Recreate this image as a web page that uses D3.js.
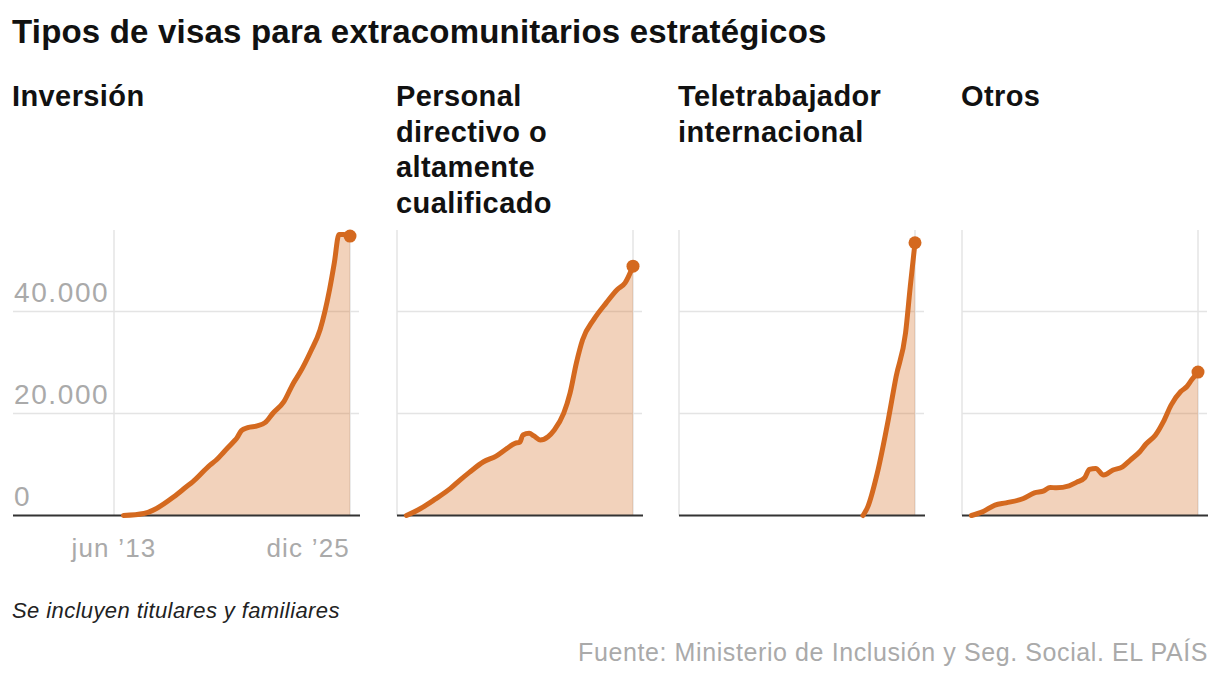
<!DOCTYPE html>
<html>
<head>
<meta charset="utf-8">
<script src="https://cdn.jsdelivr.net/npm/d3@7"></script>
<style>
  body { margin: 0; background: #fff; }
  text { font-family: "Liberation Sans", Arial, sans-serif; }
</style>
</head>
<body>
<div id="chart"></div>
<script>
var svgWidth = 1220;
var svgHeight = 682;

// ---- data ----
var panelTitles = [
  ["Inversión"],
  ["Personal", "directivo o", "altamente", "cualificado"],
  ["Teletrabajador", "internacional"],
  ["Otros"]
];

var inversionDates = ["2013-12", "2015-01", "2015-09", "2016-08", "2017-04", "2017-08", "2018-07", "2018-11",
  "2019-04", "2019-10", "2019-12", "2020-03", "2020-07", "2021-01", "2021-06", "2021-11", "2022-06", "2022-12",
  "2023-04", "2023-11", "2024-05", "2024-11", "2025-02", "2025-05", "2025-08", "2025-12"];
var inversionValues = [0, 400, 1380, 3660, 5630, 6610, 9890, 10880, 12510, 14480, 15150, 16650, 17230, 17570,
  18210, 20060, 22350, 25960, 27930, 32180, 36450, 44320, 49570, 55130, 55100, 54800];

var directivoDates = ["2013-12", "2014-09", "2015-06", "2016-04", "2016-10", "2017-04", "2018-01", "2018-09",
  "2019-04", "2019-09", "2019-12", "2020-02", "2020-06", "2020-09", "2021-01", "2021-06", "2021-10", "2022-04",
  "2022-08", "2022-12", "2023-04", "2023-11", "2024-07", "2025-02", "2025-07", "2025-12"];
var directivoValues = [0, 1380, 3150, 5310, 6940, 8460, 10540, 11660, 13180, 14160, 14360, 15790, 16130, 15600,
  14810, 15460, 16780, 20060, 24000, 29900, 34480, 38420, 41700, 44320, 45640, 48900];

var teletrabajoDates = ["2023-03", "2023-06", "2023-12", "2024-07", "2024-12", "2025-06", "2025-09", "2025-12"];
var teletrabajoValues = [0, 1690, 8260, 18750, 27260, 35800, 44970, 53500];

var otrosDates = ["2013-12", "2014-07", "2015-03", "2015-10", "2016-09", "2017-04", "2017-10", "2018-02",
  "2018-06", "2019-02", "2019-07", "2019-12", "2020-03", "2020-07", "2020-12", "2021-06", "2021-12", "2022-05",
  "2022-11", "2023-03", "2023-09", "2024-02", "2024-07", "2025-01", "2025-05", "2025-08", "2025-12"];
var otrosValues = [0, 710, 2030, 2480, 3340, 4450, 4840, 5510, 5430, 5820, 6550, 7400, 9050, 9240, 7930, 8910,
  9560, 10880, 12510, 14020, 15790, 18410, 21700, 24310, 25300, 26610, 28130];

var yTicks = [0, 20000, 40000];
var xTickDates = ["2013-06", "2025-12"];
var xTickLabels = ["jun \u201913", "dic \u201925"];

// ---- layout ----
var panelLeft = [114, 397, 679, 962];
var titleLeft = [12, 396, 678, 961];
var plotWidth = 236;
var gridExtra = 9;
var plotTop = 230;
var plotBottom = 515.5;

var lineColor = "#d4691f";

var parseMonth = d3.timeParse("%Y-%m");
var es = d3.formatLocale({ decimal: ",", thousands: ".", grouping: [3], currency: ["", " €"] });
var fmt = es.format(",");

var series = [
  { dates: inversionDates, values: inversionValues },
  { dates: directivoDates, values: directivoValues },
  { dates: teletrabajoDates, values: teletrabajoValues },
  { dates: otrosDates, values: otrosValues }
];

var svg = d3.select("#chart")
  .append("svg")
  .attr("width", svgWidth)
  .attr("height", svgHeight);

// title
svg.append("text")
  .attr("x", 12)
  .attr("y", 43)
  .attr("font-size", 33)
  .attr("letter-spacing", 0.2)
  .attr("font-weight", "bold")
  .attr("fill", "#111")
  .text("Tipos de visas para extracomunitarios estratégicos");

var yScale = d3.scaleLinear()
  .domain([0, 56000])
  .range([plotBottom, plotTop]);

series.forEach(function(s, i) {
  var x0 = panelLeft[i];
  var xScale = d3.scaleTime()
    .domain([parseMonth(xTickDates[0]), parseMonth(xTickDates[1])])
    .range([x0, x0 + plotWidth]);

  var data = s.dates.map(function(d, j) {
    return { date: parseMonth(d), value: s.values[j] };
  });

  var g = svg.append("g");

  // panel title
  var t = g.append("text")
    .attr("font-size", 29)
    .attr("letter-spacing", 0.4)
    .attr("font-weight", "bold")
    .attr("fill", "#111");
  panelTitles[i].forEach(function(line, k) {
    t.append("tspan")
      .attr("x", titleLeft[i])
      .attr("y", 106 + k * 35.5)
      .text(line);
  });

  var gridStart = i === 0 ? 13 : x0;
  var gridEnd = x0 + plotWidth + gridExtra;

  // horizontal gridlines
  g.selectAll(".hgrid")
    .data(yTicks.filter(function(v) { return v > 0; }))
    .enter()
    .append("line")
    .attr("x1", gridStart)
    .attr("x2", gridEnd)
    .attr("y1", function(d) { return yScale(d); })
    .attr("y2", function(d) { return yScale(d); })
    .attr("stroke", "#e4e4e4")
    .attr("stroke-width", 1.5);

  // vertical gridlines
  g.selectAll(".vgrid")
    .data(xTickDates)
    .enter()
    .append("line")
    .attr("x1", function(d) { return xScale(parseMonth(d)); })
    .attr("x2", function(d) { return xScale(parseMonth(d)); })
    .attr("y1", plotTop)
    .attr("y2", plotBottom)
    .attr("stroke", "#e4e4e4")
    .attr("stroke-width", 1.5);

  // y labels only on first panel
  if (i === 0) {
    g.selectAll(".ylab")
      .data(yTicks)
      .enter()
      .append("text")
      .attr("x", 14)
      .attr("y", function(d) { return yScale(d) - 10; })
      .attr("font-size", 28)
      .attr("letter-spacing", 1.6)
      .attr("fill", "#aaaaaa")
      .text(function(d) { return fmt(d); });

    g.selectAll(".xlab")
      .data(xTickDates)
      .enter()
      .append("text")
      .attr("x", function(d) { return xScale(parseMonth(d)); })
      .attr("y", 557)
      .attr("text-anchor", function(d, k) { return k === 0 ? "middle" : "end"; })
      .attr("font-size", 26)
      .attr("letter-spacing", 1.2)
      .attr("fill", "#aaaaaa")
      .text(function(d, k) { return xTickLabels[k]; });
  }

  var area = d3.area()
    .x(function(d) { return xScale(d.date); })
    .y0(yScale(0))
    .y1(function(d) { return yScale(d.value); })
    .curve(d3.curveMonotoneX);

  var line = d3.line()
    .x(function(d) { return xScale(d.date); })
    .y(function(d) { return yScale(d.value); })
    .curve(d3.curveMonotoneX);

  g.append("path")
    .datum(data)
    .attr("d", area)
    .attr("fill", lineColor)
    .attr("fill-opacity", 0.3);

  // baseline
  g.append("line")
    .attr("x1", gridStart)
    .attr("x2", gridEnd + 1)
    .attr("y1", yScale(0))
    .attr("y2", yScale(0))
    .attr("stroke", "#333")
    .attr("stroke-width", 2);

  g.append("path")
    .datum(data)
    .attr("d", line)
    .attr("fill", "none")
    .attr("stroke", lineColor)
    .attr("stroke-width", 5)
    .attr("stroke-linejoin", "round")
    .attr("stroke-linecap", "round");

  var last = data[data.length - 1];
  g.append("circle")
    .attr("cx", xScale(last.date))
    .attr("cy", yScale(last.value))
    .attr("r", 6.5)
    .attr("fill", lineColor);
});

// note + source
svg.append("text")
  .attr("x", 12)
  .attr("y", 618)
  .attr("font-size", 22)
  .attr("letter-spacing", 0.4)
  .attr("font-style", "italic")
  .attr("fill", "#222")
  .text("Se incluyen titulares y familiares");

svg.append("text")
  .attr("x", 1208)
  .attr("y", 661)
  .attr("text-anchor", "end")
  .attr("font-size", 25)
  .attr("letter-spacing", 0.6)
  .attr("fill", "#aaaaaa")
  .text("Fuente: Ministerio de Inclusión y Seg. Social. EL PAÍS");
</script>
</body>
</html>
